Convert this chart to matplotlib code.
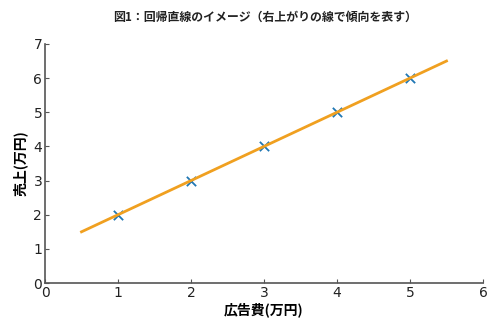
import matplotlib
matplotlib.use('Agg')
import matplotlib.pyplot as plt

plt.rcParams['font.family'] = ['Noto Sans CJK JP', 'DejaVu Sans']

# data
ad_cost = [1, 2, 3, 4, 5]
sales = [2, 3, 4, 5, 6]
line_x = [0.5, 5.5]
line_y = [1.5, 6.5]

fig = plt.figure(figsize=(5, 3.33), dpi=100)
ax = fig.add_axes([0.09, 0.15, 0.876, 0.718])

ax.scatter(ad_cost, sales, marker='x', color='#1f77b4', s=45, linewidths=1.3, zorder=2)
ax.plot(line_x, line_y, color='#f0a020', linewidth=2, zorder=3)

ax.set_xlim(0, 6)
ax.set_ylim(0, 7)
ax.set_xticks(range(0, 7))
ax.set_yticks(range(0, 8))

for s in ['top', 'right']:
    ax.spines[s].set_visible(False)
for s in ['left', 'bottom']:
    ax.spines[s].set_color('#555555')
    ax.spines[s].set_linewidth(1.2)

ax.tick_params(direction='in', length=3, color='#555555', labelsize=10, labelcolor='#222222', pad=2)
for lbl in ax.get_xticklabels() + ax.get_yticklabels():
    lbl.set_family('DejaVu Sans')

ax.set_xlabel('広告費(万円)', fontsize=10, fontweight='bold', labelpad=2)
ax.set_ylabel('売上(万円)', fontsize=10, fontweight='bold', labelpad=4)
fig.text(0.53, 0.948, '図1：回帰直線のイメージ（右上がりの線で傾向を表す）', ha='center', va='center',
         fontsize=8.6, fontweight='bold', color='#222222')

fig.savefig('out.png', dpi=100)
